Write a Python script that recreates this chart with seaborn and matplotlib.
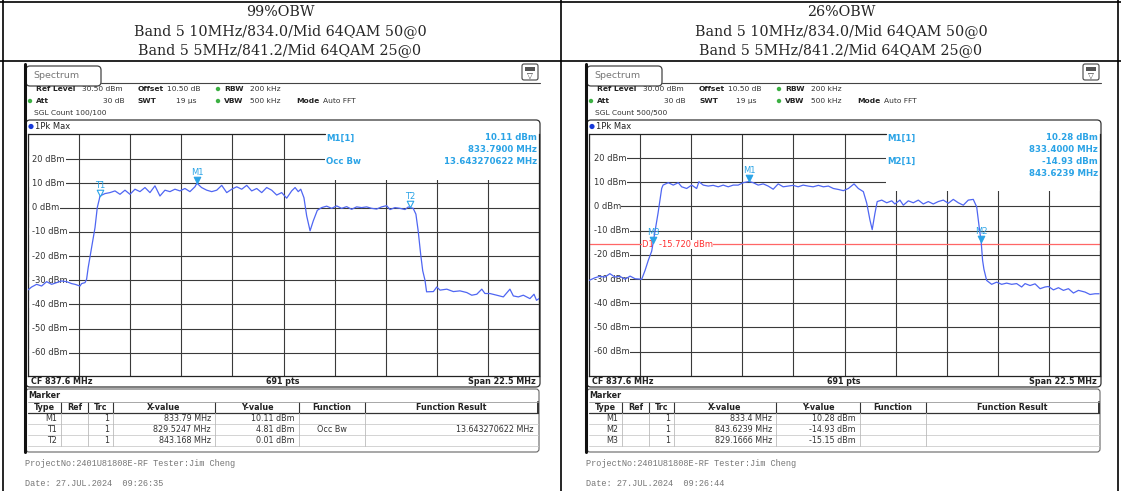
import numpy as np
import pandas as pd
import matplotlib
matplotlib.use("Agg")
import matplotlib.pyplot as plt
import seaborn as sns
from matplotlib.patches import Rectangle, FancyBboxPatch, Circle

sns.set_style("white")
plt.rcParams["font.family"] = ["DejaVu Sans"]

W, H = 1121, 491

# ---- header cells ----
title_99 = ["99%OBW", "Band 5 10MHz/834.0/Mid 64QAM 50@0", "Band 5 5MHz/841.2/Mid 64QAM 25@0"]
title_26 = ["26%OBW", "Band 5 10MHz/834.0/Mid 64QAM 50@0", "Band 5 5MHz/841.2/Mid 64QAM 25@0"]

# ---- trace 99% OBW (MHz, dBm) ----
freq_99 = [826.35, 826.51, 826.73, 826.95, 827.17, 827.39, 827.61, 827.83, 828.05, 828.27,
           828.42, 828.64, 828.71, 828.86, 828.93, 829.00, 829.15, 829.30, 829.40, 829.49,
           829.52, 829.74, 829.96, 830.18, 830.40, 830.62, 830.84, 831.06, 831.28, 831.50,
           831.72, 831.94, 832.16, 832.38, 832.60, 832.82, 833.04, 833.26, 833.48, 833.70,
           833.79, 833.99, 834.22, 834.44, 834.66, 834.88, 835.10, 835.32, 835.54, 835.76,
           835.98, 836.20, 836.42, 836.64, 836.86, 837.08, 837.30, 837.52, 837.74, 837.96,
           838.11, 838.25, 838.36, 838.50, 838.62, 838.77, 838.91, 839.09, 839.28, 839.50,
           839.72, 839.94, 840.16, 840.38, 840.60, 840.82, 841.04, 841.26, 841.48, 841.70,
           841.92, 842.14, 842.29, 842.51, 842.73, 842.95, 843.10, 843.17, 843.31, 843.43,
           843.53, 843.64, 843.73, 843.83, 843.90, 844.20, 844.35, 844.49, 844.79, 845.08,
           845.37, 845.67, 845.89, 846.11, 846.33, 846.47, 846.69, 846.99, 847.28, 847.57,
           847.72, 847.94, 848.16, 848.45, 848.63, 848.74, 848.85]
level_99 = [-34.0, -32.8, -31.7, -32.4, -30.6, -31.7, -31.0, -30.3, -30.6, -31.4,
            -31.7, -32.4, -31.4, -31.0, -29.6, -24.8, -16.5, -8.3, 0.0, 3.5,
            4.8, 5.8, 6.2, 6.9, 5.5, 7.2, 5.5, 7.6, 6.6, 8.3,
            6.2, 9.0, 4.8, 7.2, 6.6, 7.6, 6.9, 7.9, 6.6, 8.6,
            10.1, 8.3, 7.2, 6.6, 7.2, 9.2, 6.2, 7.6, 8.6, 7.6,
            9.2, 6.9, 7.9, 6.2, 8.3, 7.2, 5.2, 6.2, 3.9, 6.9,
            8.3, 6.6, 7.6, 4.1, -3.4, -9.6, -5.5, -1.1, 0.0, 0.6,
            -0.3, 0.7, -0.3, 0.4, -0.7, 0.3, 0.0, 0.3, -0.3, -0.6,
            0.3, 0.8, -0.8, 0.0, -0.3, -0.8, 0.3, 0.0, -0.3, -2.7,
            -9.6, -19.3, -26.1, -30.0, -34.8, -34.7, -32.8, -34.1, -33.7, -34.7,
            -34.4, -35.1, -36.2, -35.8, -33.7, -35.5, -35.5, -36.2, -36.9, -33.7,
            -36.5, -36.9, -36.2, -37.6, -35.8, -38.3, -37.6]

# ---- trace 26% OBW (MHz, dBm) ----
freq_26 = [826.35, 826.61, 826.83, 827.05, 827.27, 827.49, 827.71, 827.94, 828.16, 828.38,
           828.67, 828.82, 828.96, 829.11, 829.17, 829.39, 829.55, 829.61, 829.84, 830.06,
           830.28, 830.43, 830.65, 830.87, 831.09, 831.19, 831.38, 831.60, 831.82, 832.04,
           832.26, 832.48, 832.70, 832.92, 833.14, 833.40, 833.58, 833.80, 834.02, 834.24,
           834.46, 834.68, 834.90, 835.12, 835.34, 835.56, 835.78, 836.00, 836.22, 836.45,
           836.67, 836.89, 837.11, 837.33, 837.55, 837.77, 838.02, 838.21, 838.43, 838.58,
           838.72, 838.82, 838.94, 839.04, 839.24, 839.46, 839.68, 839.82, 840.04, 840.19,
           840.41, 840.63, 840.85, 841.07, 841.29, 841.51, 841.73, 841.95, 842.17, 842.39,
           842.61, 842.83, 843.05, 843.27, 843.42, 843.53, 843.62, 843.68, 843.74, 843.86,
           844.08, 844.30, 844.52, 844.74, 844.96, 845.18, 845.40, 845.55, 845.77, 845.99,
           846.21, 846.43, 846.58, 846.80, 847.02, 847.24, 847.46, 847.68, 847.90, 848.19,
           848.41, 848.63, 848.81]
level_26 = [-30.6, -29.5, -28.9, -29.2, -27.8, -29.2, -28.9, -30.1, -28.8, -29.9,
            -30.1, -26.4, -22.3, -18.5, -15.2, -2.8, 7.4, 8.8, 9.8, 8.8,
            9.8, 8.1, 7.4, 8.8, 7.4, 10.2, 8.8, 8.4, 8.7, 8.1,
            8.8, 8.1, 8.8, 8.8, 9.8, 10.3, 9.8, 8.8, 9.3, 8.4,
            7.1, 9.3, 8.1, 8.4, 8.7, 8.1, 8.8, 8.4, 8.1, 8.7,
            8.1, 8.4, 7.4, 7.0, 6.5, 7.4, 9.3, 7.4, 6.1, 1.3,
            -5.6, -9.6, -2.9, 2.0, 2.6, 1.5, 2.3, 1.0, 2.6, 0.5,
            2.3, 1.5, 2.6, 1.0, 2.0, 1.0, 2.0, 2.6, 1.3, 2.9,
            1.5, 0.5, 2.6, 2.9, -0.2, -8.5, -14.9, -22.3, -26.0, -30.6,
            -32.2, -31.3, -32.2, -31.7, -32.2, -31.9, -33.3, -31.9, -32.7, -32.0,
            -34.0, -33.3, -33.1, -34.5, -33.6, -34.7, -34.0, -35.8, -34.7, -35.4,
            -36.4, -36.1, -36.1]

# ---- markers: name, freq, level, filled ----
marks_99 = [("M1", 833.79, 10.11, True), ("T1", 829.5247, 4.81, False), ("T2", 843.168, 0.01, False)]
marks_26 = [("M1", 833.4, 10.28, True), ("M2", 843.6239, -14.93, True), ("M3", 829.1666, -15.15, True)]

info_99 = [("M1[1]", "10.11 dBm"), ("", "833.7900 MHz"), ("Occ Bw", "13.643270622 MHz")]
info_26 = [("M1[1]", "10.28 dBm"), ("", "833.4000 MHz"), ("M2[1]", "-14.93 dBm"), ("", "843.6239 MHz")]

table_cols = ["Type", "Ref", "Trc", "X-value", "Y-value", "Function", "Function Result"]
rows_99 = [["M1", "", "1", "833.79 MHz", "10.11 dBm", "", ""],
           ["T1", "", "1", "829.5247 MHz", "4.81 dBm", "Occ Bw", "13.643270622 MHz"],
           ["T2", "", "1", "843.168 MHz", "0.01 dBm", "", ""]]
rows_26 = [["M1", "", "1", "833.4 MHz", "10.28 dBm", "", ""],
           ["M2", "", "1", "843.6239 MHz", "-14.93 dBm", "", ""],
           ["M3", "", "1", "829.1666 MHz", "-15.15 dBm", "", ""]]

y_grid = [20, 10, 0, -10, -20, -30, -40, -50, -60]
F0, F1 = 826.35, 848.85

TRACE = "#4f66f2"
MK = "#2aa3e6"
RED = "#ff6666"
GRID = "#3a3a3a"
TXT = "#222222"

fig = plt.figure(figsize=(W / 100, H / 100), dpi=100)
base = fig.add_axes([0, 0, 1, 1])
top = fig.add_axes([0, 0, 1, 1], zorder=5)
for a in (base, top):
    a.set_xlim(0, W)
    a.set_ylim(H, 0)
    a.axis("off")

# outer table lines
base.plot([0, W], [1.5, 1.5], color="black", lw=1.2)
base.plot([0, W], [61, 61], color="black", lw=1.2)
for x in (3, 560.5, 1118):
    base.plot([x, x], [0, H], color="black", lw=1.2)


def fpx(p):
    # pixel offset inside the plot -> MHz
    return F0 + p * (F1 - F0) / 511


def screen(dx, title, ref_txt, sgl_txt, ref, freq, level, marks, info, rows, date, dline=None):
    for yy, s in zip([12, 31.5, 50], title):
        base.text(280 + dx, yy, s, ha="center", va="center", fontsize=10.3, family="DejaVu Serif")

    fs = 5.8
    # tab + icon
    base.add_patch(FancyBboxPatch((26 + dx, 66), 75, 20, boxstyle="round,pad=0,rounding_size=4",
                                  fc="white", ec="#444", lw=0.9))
    base.plot([101 + dx, 540 + dx], [83, 83], color="#444", lw=0.8)
    base.text(33 + dx, 75, "Spectrum", fontsize=6.8, color="#777", va="center")
    base.add_patch(FancyBboxPatch((522 + dx, 64), 16, 16, boxstyle="round,pad=0,rounding_size=2",
                                  fc="white", ec="#444", lw=0.8))
    base.add_patch(Rectangle((525 + dx, 67), 10, 3.5, fc="#555", ec="none"))
    base.text(530 + dx, 75.5, "▽", fontsize=5.5, ha="center", va="center", color="#333")

    # setting rows
    sf = 5.4
    bold = dict(fontsize=sf, fontweight="bold", va="center", color=TXT)
    norm = dict(fontsize=sf, va="center", color="#333")
    base.text(36 + dx, 89, "Ref Level", **bold)
    base.text(82 + dx, 89, ref_txt, **norm)
    base.text(138 + dx, 89, "Offset", **bold)
    base.text(167 + dx, 89, "10.50 dB", **norm)
    base.text(224 + dx, 89, "RBW", **bold)
    base.text(250 + dx, 89, "200 kHz", **norm)
    base.text(36 + dx, 101, "Att", **bold)
    base.text(125 + dx, 101, "30 dB", ha="right", **norm)
    base.text(138 + dx, 101, "SWT", **bold)
    base.text(196 + dx, 101, "19 µs", ha="right", **norm)
    base.text(224 + dx, 101, "VBW", **bold)
    base.text(250 + dx, 101, "500 kHz", **norm)
    base.text(296 + dx, 101, "Mode", **bold)
    base.text(323 + dx, 101, "Auto FFT", **norm)
    base.text(34 + dx, 113, sgl_txt, **norm)
    for (cx, cy) in [(218, 89), (218, 101), (30, 101)]:
        base.add_patch(Circle((cx + dx, cy), 2.2, fc="#3cb043", ec="none"))

    # trace window frame
    base.add_patch(FancyBboxPatch((26 + dx, 120), 514, 267, boxstyle="round,pad=0,rounding_size=4",
                                  fc="white", ec="#333", lw=0.9))
    base.plot([24.5 + dx, 24.5 + dx], [64, 452], color="#111", lw=2.2)
    base.add_patch(Circle((31 + dx, 126.5), 2.6, fc="#1638d8", ec="none"))
    base.text(35 + dx, 126.5, "1Pk Max", fontsize=6, va="center", color=TXT)

    # bottom bar
    base.text(31 + dx, 381.5, "CF 837.6 MHz", fontsize=fs, fontweight="bold", va="center", color=TXT)
    base.text(283 + dx, 381.5, "691 pts", fontsize=fs, fontweight="bold", va="center", ha="center", color=TXT)
    base.text(536 + dx, 381.5, "Span 22.5 MHz", fontsize=fs, fontweight="bold", va="center", ha="right", color=TXT)

    # marker table
    base.add_patch(FancyBboxPatch((26 + dx, 389), 513, 63, boxstyle="round,pad=0,rounding_size=3",
                                  fc="white", ec="#666", lw=0.8))
    base.text(28 + dx, 395.5, "Marker", fontsize=fs, fontweight="bold", va="center", color=TXT)
    edges = [28, 61, 88, 113, 215, 299, 365, 538]
    base.plot([edges[0] + dx, edges[-1] + dx], [413, 413], color="#333", lw=0.9)
    for x in edges[1:-1]:
        base.plot([x + dx, x + dx], [402, 413], color="#333", lw=0.8)
    base.plot([edges[-1] + dx, edges[-1] + dx], [402, 413], color="#333", lw=1.4)
    for i, c in enumerate(table_cols):
        base.text((edges[i] + edges[i + 1]) / 2 + dx, 407.5, c, fontsize=fs, fontweight="bold",
                  ha="center", va="center", color=TXT)
    for r, row in enumerate(rows):
        yc = 418.5 + r * 11
        base.plot([edges[0] + dx, edges[-1] + dx], [yc + 5.5, yc + 5.5], color="#ccc", lw=0.6)
        for x in edges[1:-1]:
            base.plot([x + dx, x + dx], [yc - 5.5, yc + 5.5], color="#bbb", lw=0.6)
        for i, s in enumerate(row):
            if i == 5:
                base.text((edges[i] + edges[i + 1]) / 2 + dx, yc, s, fontsize=fs, ha="center", va="center", color="#333")
            else:
                base.text(edges[i + 1] - 4 + dx, yc, s, fontsize=fs, ha="right", va="center", color="#333")
    base.plot([edges[0] + dx, edges[-1] + dx], [402, 402], color="#999", lw=0.6)

    # footer
    base.text(25 + dx, 464, "ProjectNo:2401U81808E-RF Tester:Jim Cheng", fontsize=6.2,
              family="Liberation Mono", color="#777", va="center")
    base.text(25 + dx, 483, date, fontsize=6.2, family="Liberation Mono", color="#777", va="center")

    # plot area
    y0 = 133.8
    ax = fig.add_axes([(28 + dx) / W, 1 - (y0 + 242) / H, 511 / W, 242 / H], zorder=1)
    sns.lineplot(x=freq, y=level, ax=ax, color=TRACE, linewidth=0.9, sort=False,
                 estimator=None, zorder=3)
    ax.set_xlim(F0, F1)
    ax.set_ylim(ref - 100, ref)
    ax.set_xticks(np.linspace(F0, F1, 11))
    ax.set_yticks(y_grid)
    ax.grid(True, color=GRID, lw=0.8)
    ax.set_axisbelow(True)
    ax.tick_params(length=0, labelbottom=False, labelleft=False)
    ax.set_xlabel("")
    ax.set_ylabel("")
    for s in ax.spines.values():
        s.set_color("#222")
        s.set_linewidth(0.9)
    ax.spines["top"].set_visible(False)

    # level labels sit inside the grid, the line starts after the text
    for v in y_grid:
        ax.add_patch(Rectangle((F0, v - 1.5), fpx(5) - F0, 3, fc="white", ec="none", zorder=1.3))
        ax.text(fpx(4.5), v, f"{v} dBm", fontsize=6, color="#333", va="center", ha="left",
                bbox=dict(fc="white", ec="none", pad=0.4), zorder=1.5)

    # marker info area hides the grid
    box_low = ref - (11.5 + 11.5 * len(info)) / 2.42
    ax.add_patch(Rectangle((fpx(297), box_low), F1 - fpx(297), ref - box_low, fc="white", ec="none", zorder=1.2))
    ax.plot([F0, fpx(297)], [ref, ref], color="#222", lw=0.9, zorder=2.6, clip_on=False)
    for i, (lab, val) in enumerate(info):
        yy = 138 + i * 11.7
        top.text(326 + dx, yy, lab, fontsize=6.2, fontweight="bold", color=MK, va="center")
        top.text(537 + dx, yy, val, fontsize=6.2, fontweight="bold", color=MK, va="center", ha="right")

    if dline is not None:
        ax.axhline(dline, color=RED, lw=0.9, zorder=2.5)
        ax.text(fpx(53), dline, f"D1  {dline:.3f} dBm", color="#ff3030", fontsize=6, va="center",
                ha="left", bbox=dict(fc="white", ec="none", pad=0.3), zorder=2.6)

    for name, f, lv, filled in marks:
        ax.scatter([f], [lv + 1.3], marker="v", s=22, zorder=5, clip_on=False,
                   facecolors=MK if filled else "white", edgecolors=MK, linewidths=0.8)
        ax.text(f, lv + 4.5, name, ha="center", va="center", color=MK, fontsize=6, zorder=5)


screen(0, title_99, "30.50 dBm", "SGL Count 100/100", 30.5, freq_99, level_99, marks_99,
       info_99, rows_99, "Date: 27.JUL.2024  09:26:35")
screen(561, title_26, "30.00 dBm", "SGL Count 500/500", 30.0, freq_26, level_26, marks_26,
       info_26, rows_26, "Date: 27.JUL.2024  09:26:44", dline=-15.72)

fig.savefig("out.png", dpi=100)
